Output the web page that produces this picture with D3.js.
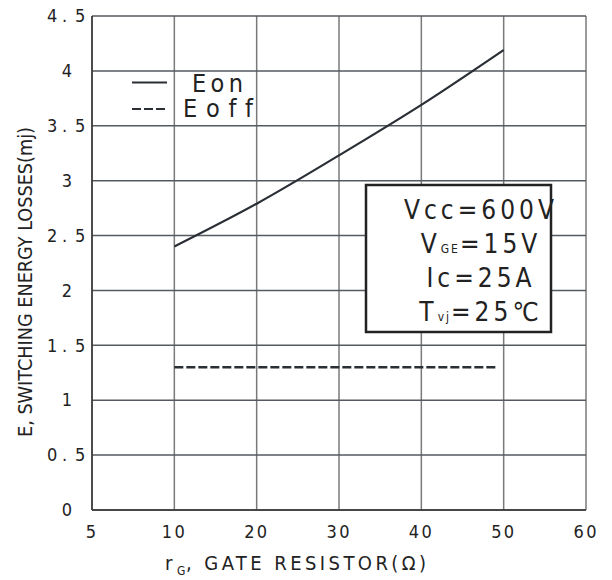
<!DOCTYPE html>
<html><head><meta charset="utf-8">
<script src="https://cdn.jsdelivr.net/npm/d3@7"></script>
<style>
body{margin:0;background:#fff}
text{font-family:"DejaVu Sans Condensed","DejaVu Sans",sans-serif;fill:#222;font-variant-ligatures:none}
</style>
</head><body>
<svg id="chart" width="612" height="580"></svg>
<script>
// Axis ticks (the x axis is evenly spaced per labelled value)
const xTicks = [5, 10, 20, 30, 40, 50, 60];
const yTicks = [0, 0.5, 1, 1.5, 2, 2.5, 3, 3.5, 4, 4.5];
const yTickLabels = ["0", "0.5", "1", "1.5", "2", "2.5", "3", "3.5", "4", "4.5"];

// Switching energy vs gate resistor
const rGon = [10, 20, 30, 40, 50];
const eon = [2.40, 2.79, 3.23, 3.69, 4.19];
const rGoff = [10, 49];
const eoff = [1.30, 1.30];

const conditions = [
  {main: "Vcc=600V", sub: null},
  {main: "V", sub: "GE", rest: "=15V"},
  {main: "Ic=25A", sub: null},
  {main: "T", sub: "vj", rest: "=25℃"}
];

const plotL = 92, plotR = 586, plotT = 16, plotB = 510;
const svg = d3.select("#chart");

const x = d3.scaleLinear()
  .domain(xTicks)
  .range(xTicks.map((d, i) => plotL + i * (plotR - plotL) / (xTicks.length - 1)));
const y = d3.scaleLinear().domain([0, 4.5]).range([plotB, plotT]);

// grid
const grid = svg.append("g");
grid.selectAll(".vx").data(xTicks).join("line")
  .attr("x1", d => x(d)).attr("x2", d => x(d))
  .attr("y1", plotT).attr("y2", plotB)
  .attr("stroke", "#7a7a7a").attr("stroke-width", 1.5);
grid.selectAll(".hy").data(yTicks).join("line")
  .attr("x1", plotL).attr("x2", plotR)
  .attr("y1", d => y(d)).attr("y2", d => y(d))
  .attr("stroke", "#555a60").attr("stroke-width", 1.5);
svg.append("line").attr("x1", plotL).attr("x2", plotL).attr("y1", plotT).attr("y2", plotB)
  .attr("stroke", "#333").attr("stroke-width", 1.5);
svg.append("line").attr("x1", plotL).attr("x2", plotR).attr("y1", plotB).attr("y2", plotB)
  .attr("stroke", "#333").attr("stroke-width", 1.5);

// x tick labels
const xAxis = svg.append("g").attr("transform", `translate(0,${plotB})`)
  .call(d3.axisBottom(x).tickValues(xTicks).tickSize(0).tickPadding(0));
xAxis.select(".domain").remove();
xAxis.attr("font-family", null).attr("font-size", null);
xAxis.selectAll("text")
  .attr("font-size", 18).attr("fill", "#222")
  .attr("dy", null).attr("y", 28).attr("x", -1.5)
  .each(function (d) {
    if (String(d).length > 1) d3.select(this).attr("textLength", 23).attr("lengthAdjust", "spacing");
  });

// y tick labels: integers end where a decimal point would sit
const yAxis = svg.append("g").attr("transform", `translate(${plotL},0)`)
  .call(d3.axisLeft(y).tickValues(yTicks).tickSize(0).tickPadding(0)
    .tickFormat((d, i) => yTickLabels[i]));
yAxis.select(".domain").remove();
yAxis.attr("font-family", null).attr("font-size", null);
yAxis.selectAll("text")
  .attr("font-size", 18).attr("fill", "#222")
  .each(function (d, i) {
    const s = d3.select(this);
    const lab = yTickLabels[i];
    if (lab.includes(".")) {
      const [ip, fp] = lab.split(".");
      s.text(null).attr("text-anchor", "start");
      s.append("tspan").attr("x", 47 - plotL).text(ip);
      s.append("tspan").attr("x", 62 - plotL).text(".");
      s.append("tspan").attr("x", 75 - plotL).text(fp);
    } else {
      s.attr("text-anchor", "end").attr("x", 72 - plotL);
    }
  });

// curves
const line = d3.line().x(d => x(d[0])).y(d => y(d[1])).curve(d3.curveMonotoneX);
svg.append("path").datum(rGon.map((d, i) => [d, eon[i]]))
  .attr("d", line).attr("fill", "none").attr("stroke", "#2a2e35").attr("stroke-width", 2.2);
svg.append("path").datum(rGoff.map((d, i) => [d, eoff[i]]))
  .attr("d", line).attr("fill", "none").attr("stroke", "#2a2e35").attr("stroke-width", 2.5)
  .attr("stroke-dasharray", "9,3");

// legend
const leg = svg.append("g");
leg.append("line").attr("x1", 132).attr("x2", 167).attr("y1", 82.5).attr("y2", 82.5)
  .attr("stroke", "#2a2e35").attr("stroke-width", 2.2);
leg.append("line").attr("x1", 132).attr("x2", 168).attr("y1", 109).attr("y2", 109)
  .attr("stroke", "#2a2e35").attr("stroke-width", 2.2).attr("stroke-dasharray", "9,3");
leg.append("text").attr("x", 192).attr("y", 92).attr("font-size", 25)
  .attr("textLength", 51).attr("lengthAdjust", "spacing").text("Eon");
leg.append("text").attr("x", 183).attr("y", 117).attr("font-size", 25)
  .attr("textLength", 70).attr("lengthAdjust", "spacing").text("Eoff");

// conditions box
svg.append("rect").attr("x", 366).attr("y", 185).attr("width", 185).attr("height", 147)
  .attr("fill", "#fff").attr("stroke", "#222").attr("stroke-width", 2.5);
const baselines = [219, 253, 287, 321];
conditions.forEach((c, i) => {
  const t = svg.append("text").attr("x", 481).attr("y", baselines[i])
    .attr("text-anchor", "middle").attr("font-size", 26).attr("letter-spacing", 4);
  t.append("tspan").text(c.main);
  if (c.sub) {
    t.append("tspan").attr("font-size", 12).attr("letter-spacing", 2).text(c.sub);
    t.append("tspan").text(c.rest);
  }
});

// x axis title
svg.append("text").attr("x", 165).attr("y", 570).attr("font-size", 20).text("r");
svg.append("text").attr("x", 177).attr("y", 575).attr("font-size", 12).text("G");
svg.append("text").attr("x", 186).attr("y", 570).attr("font-size", 20)
  .attr("textLength", 240).attr("lengthAdjust", "spacing")
  .text(", GATE RESISTOR(Ω)");

// y axis title
svg.append("text").attr("transform", "translate(32,282) rotate(-90)")
  .attr("text-anchor", "middle").attr("font-size", 19)
  .attr("textLength", 310).attr("lengthAdjust", "spacingAndGlyphs")
  .text("E, SWITCHING ENERGY LOSSES(mj)");
</script>
</body></html>
